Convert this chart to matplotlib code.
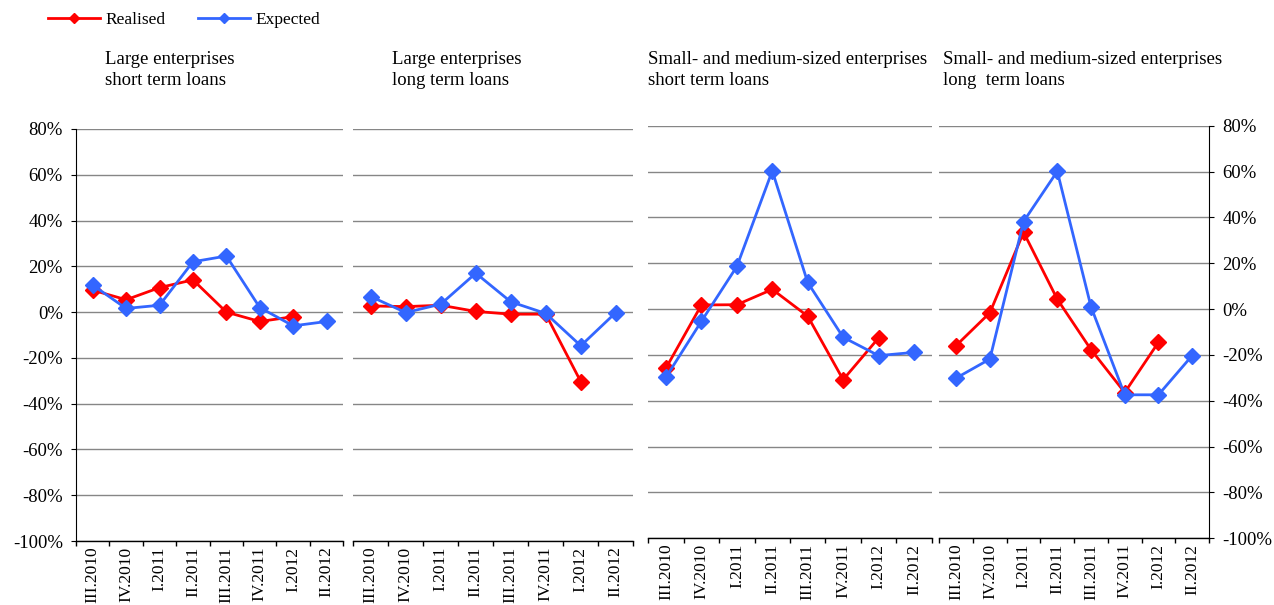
import numpy as np
import matplotlib
matplotlib.use("Agg")
import matplotlib.pyplot as plt
from matplotlib.ticker import FixedLocator, FuncFormatter, NullFormatter

plt.rcParams['font.family'] = ['Liberation Serif', 'DejaVu Serif']

quarters = ["III.2010", "IV.2010", "I.2011", "II.2011", "III.2011", "IV.2011", "I.2012", "II.2012"]

titles = [
    "Large enterprises\nshort term loans",
    "Large enterprises\nlong term loans",
    "Small- and medium-sized enterprises\nshort term loans",
    "Small- and medium-sized enterprises\nlong  term loans",
]

# realised / expected, in %
le_short_real = [9.6, 5.4, 10.7, 14.1, 0.0, -4.1, -2.0, np.nan]
le_short_exp = [11.8, 1.6, 3.0, 22.0, 24.5, 2.0, -6.0, -4.1]
le_long_real = [2.7, 2.4, 3.0, 0.3, -0.9, -0.9, -30.4, np.nan]
le_long_exp = [6.8, -0.2, 3.5, 17.0, 4.5, -0.6, -14.7, -0.2]
sme_short_real = [-25.7, 1.8, 1.9, 8.6, -3.1, -30.8, -12.6, np.nan]
sme_short_exp = [-29.7, -5.3, 18.6, 60.3, 11.6, -12.3, -20.3, -18.9]
sme_long_real = [-15.9, -1.6, 33.5, 4.3, -17.7, -36.4, -14.5, np.nan]
sme_long_exp = [-30.1, -21.8, 38.2, 60.1, 1.0, -37.4, -37.4, -20.3]

realised = [le_short_real, le_long_real, sme_short_real, sme_long_real]
expected = [le_short_exp, le_long_exp, sme_short_exp, sme_long_exp]

RED = "#FF0000"
BLUE = "#3366FF"
GRID = "#868686"

W, H = 1274, 605
fig = plt.figure(figsize=(W / 100, H / 100), dpi=100)

# panel boxes in pixels: x0, x1, ytop, ybottom
boxes = [
    (76, 343.3, 129, 541),
    (353.3, 633.3, 129, 541),
    (648.3, 931.7, 125.7, 538.3),
    (939.3, 1209, 125.7, 538.3),
]
title_x = [105, 392, 648, 943]


def px_axes(x0, x1, yt, yb):
    return fig.add_axes([x0 / W, 1 - yb / H, (x1 - x0) / W, (yb - yt) / H])


x = np.arange(len(quarters)) + 0.5
axes = []
for i, (x0, x1, yt, yb) in enumerate(boxes):
    ax = px_axes(x0, x1, yt, yb)
    axes.append(ax)
    ax.set_xlim(0, len(quarters))
    ax.set_ylim(-100, 80)
    ax.set_yticks(np.arange(-100, 81, 20))
    ax.yaxis.set_major_formatter(FuncFormatter(lambda v, p: f"{v:.0f}%"))
    ax.grid(axis='y', color=GRID, lw=1.0)
    ax.set_axisbelow(True)

    ax.xaxis.set_major_locator(FixedLocator(np.arange(len(quarters) + 1)))
    ax.xaxis.set_major_formatter(NullFormatter())
    ax.xaxis.set_minor_locator(FixedLocator(x))
    ax.set_xticklabels(quarters, minor=True, rotation=90, fontsize=12.5, va='top')
    ax.tick_params(axis='x', which='major', direction='out', length=3.5, width=1, color='black')
    ax.tick_params(axis='x', which='minor', length=0, pad=4)

    for s in ['top', 'left', 'right']:
        ax.spines[s].set_visible(False)
    ax.spines['bottom'].set_color('black')
    ax.spines['bottom'].set_linewidth(1.0)

    if i == 0:
        ax.spines['left'].set_visible(True)
        ax.spines['left'].set_color('black')
        ax.tick_params(axis='y', direction='out', length=3.5, labelsize=13.5, pad=6)
    elif i == 3:
        ax.spines['right'].set_visible(True)
        ax.spines['right'].set_color('black')
        ax.yaxis.tick_right()
        ax.tick_params(axis='y', direction='out', length=3.5, labelsize=13.5, pad=6)
    else:
        ax.tick_params(axis='y', left=False, labelleft=False)

    ax.plot(x, realised[i], color=RED, lw=2, marker='D', ms=8, label="Realised", clip_on=False)
    ax.plot(x, expected[i], color=BLUE, lw=2, marker='D', ms=8, label="Expected", clip_on=False)

    fig.text(title_x[i] / W, 1 - 51 / H, titles[i], ha='left', va='top', fontsize=13.5, linespacing=1.28)

h, l = axes[0].get_legend_handles_labels()
fig.legend(h, l, loc='center left', bbox_to_anchor=(48 / W, 1 - 20 / H), ncol=2, frameon=False,
           fontsize=12.5, handlelength=3.0, handletextpad=0.3, columnspacing=1.9, markerscale=0.7,
           borderaxespad=0, borderpad=0)

fig.savefig("out.png", dpi=100)
